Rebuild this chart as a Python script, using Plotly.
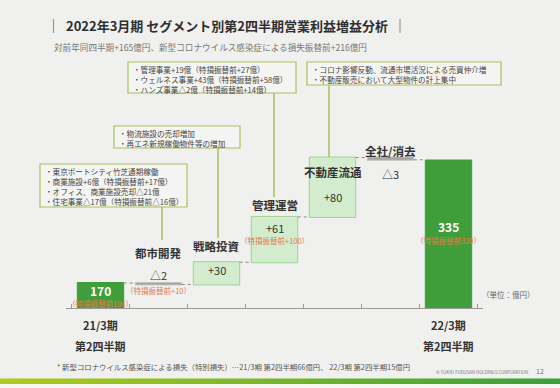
import plotly.graph_objects as go

# ---------------- data ----------------
categories = ["21/3期 第2四半期", "都市開発", "戦略投資", "管理運営", "不動産流通", "全社/消去", "22/3期 第2四半期"]
values = [170, -2, 30, 61, 80, -3, 335]
measures = ["absolute", "relative", "relative", "relative", "relative", "relative", "absolute"]
value_labels = ["170", "△2", "+30", "+61", "+80", "△3", "335"]
segment_labels = ["", "都市開発", "戦略投資", "管理運営", "不動産流通", "全社/消去", ""]
pre_transfer = ["（特損振替前104）", "（特損振替前+10）", "", "（特損振替前+100）", "", "", "（特損振替前320）"]
callouts = {
    "都市開発": ["・東京ポートシティ竹芝通期稼働", "・商業施設+6億（特損振替前+17億）",
              "・オフィス、商業施設売却△21億", "・住宅事業△17億（特損振替前△16億）"],
    "戦略投資": ["・物流施設の売却増加", "・再エネ新規稼働物件等の増加"],
    "管理運営": ["・管理事業+19億（特損振替前+27億）", "・ウェルネス事業+43億（特損振替前+58億）",
              "・ハンズ事業△2億（特損振替前+14億）"],
    "不動産流通": ["・コロナ影響反動、流通市場活況による売買仲介増", "・不動産販売において大型物件の計上集中"],
}
title = "2022年3月期 セグメント別第2四半期営業利益増益分析"
subtitle = "対前年同四半期+165億円、新型コロナウイルス感染症による損失振替前+216億円"
footnote = "* 新型コロナウイルス感染症による損失（特別損失）…21/3期 第2四半期66億円、 22/3期 第2四半期15億円"

# ---------------- layout geometry ----------------
W, H = 560, 388
L, R, T, B = 66, 483, 60, 308
FONT = "Noto Sans CJK JP"
BG = "#f0f0ee"
DARK = "#333333"
ORANGE = "#e47a4c"
OLIVE = "#a9c05e"

def PX(x):
    return (x - L) / (R - L)

def PY(y):
    return (B - y) / (B - T)

fig = go.Figure()
fig.add_trace(go.Waterfall(
    x=categories, y=values, measure=measures, width=0.8,
    textinfo="none", hoverinfo="skip",
    increasing=dict(marker=dict(color="#d3ecce", line=dict(color="#9ed394", width=1))),
    decreasing=dict(marker=dict(color="#a3a3a3", line=dict(color="#c4c4c4", width=1))),
    totals=dict(marker=dict(color="#3f9e3a", line=dict(color="#3f9e3a", width=1))),
    connector=dict(mode="between", line=dict(color="#8a8a8a", width=1, dash="dot")),
))

ann = []
shapes = []

def text(x, y, s, size, color=DARK, bold=False, xref="paper", xanchor="center", yanchor="middle", align="center"):
    ann.append(dict(x=x, y=y, xref=xref, yref="paper", text=("<b>%s</b>" % s) if bold else s,
                    showarrow=False, xanchor=xanchor, yanchor=yanchor, align=align,
                    font=dict(family=FONT, size=size, color=color)))

# bar labels (pixel y positions)
seg_y = {"都市開発": 253, "戦略投資": 246, "管理運営": 205, "不動産流通": 172, "全社/消去": 151}
val_y = [290, 275, 270, 228, 197, 174, 226]
pre_y = [303, 290, 0, 240, 0, 0, 240]
for i, c in enumerate(categories):
    if segment_labels[i]:
        text(c, PY(seg_y[segment_labels[i]]), segment_labels[i], 11.5, bold=True, xref="x")
    white = measures[i] == "absolute"
    text(c, PY(val_y[i]), value_labels[i], 12 if white else 11,
         color="white" if white else DARK, bold=white, xref="x")
    if pre_transfer[i]:
        text(c, PY(pre_y[i]), pre_transfer[i], 7.5, color=ORANGE, xref="x")

for i in (0, 6):
    lab = categories[i].split(" ")
    text(categories[i], PY(325), lab[0], 11, bold=True, xref="x")
    text(categories[i], PY(346), lab[1], 11, bold=True, xref="x")

# callout boxes: (left, top, right, bottom, line x, line bottom)
boxes = {
    "都市開発": (40, 164, 187, 207, 162, 240),
    "戦略投資": (114, 126, 240, 148, 218, 238),
    "管理運営": (128, 62, 296, 93, 274, 197),
    "不動産流通": (307, 62, 501, 85, 329, 157),
}
for k, (x0, y0, x1, y1, lx, ly) in boxes.items():
    shapes.append(dict(type="rect", xref="paper", yref="paper", x0=PX(x0), x1=PX(x1), y0=PY(y0), y1=PY(y1),
                       line=dict(color=OLIVE, width=1.2), fillcolor="rgba(255,255,255,0.25)", layer="above"))
    shapes.append(dict(type="line", xref="paper", yref="paper", x0=PX(lx), x1=PX(lx), y0=PY(y1), y1=PY(ly),
                       line=dict(color=OLIVE, width=1.5)))
    text(PX(x0 + 3), PY(y0), "<br>".join(callouts[k]), 7.6, color="#444444",
         xanchor="left", yanchor="top", align="left")

# title block
text(PX(64), PY(25), title, 13, color="#2f2f2f", bold=True, xanchor="left")
for bx in (53.5, 400):
    shapes.append(dict(type="line", xref="paper", yref="paper", x0=PX(bx), x1=PX(bx), y0=PY(19), y1=PY(33),
                       line=dict(color="#9a9a9a", width=1.2)))
text(PX(52), PY(47), subtitle, 8.6, color="#777777", xanchor="left")

text(PX(480), PY(294), "（単位：億円）", 7.5, color="#666666", xanchor="left")
text(PX(55), PY(366), footnote, 7.4, color="#555555", xanchor="left")
text(PX(530), PY(372), "© TOKYU FUDOSAN HOLDINGS CORPORATION", 4.3, color="#777777", xanchor="right")
text(PX(540), PY(371), "12", 7, color="#777777", xanchor="center")

# bottom gradient stripe
n = 56
c0, c1 = (176, 202, 30), (58, 160, 58)
for j in range(n):
    t = j / (n - 1)
    col = "rgb(%d,%d,%d)" % tuple(round(c0[k] + (c1[k] - c0[k]) * t) for k in range(3))
    shapes.append(dict(type="rect", xref="paper", yref="paper",
                       x0=PX(j * W / n), x1=PX((j + 1) * W / n + 0.5), y0=PY(384), y1=PY(378.5),
                       line=dict(width=0), fillcolor=col))
shapes.append(dict(type="rect", xref="paper", yref="paper", x0=PX(0), x1=PX(W), y0=PY(388), y1=PY(384),
                   line=dict(width=0), fillcolor="#f7f7f6"))

K = 0.7424
y_lo = 170 - (B - 283) / K
y_hi = y_lo + (B - T) / K

fig.update_layout(
    width=W, height=H, margin=dict(l=L, r=W - R, t=T, b=H - B),
    paper_bgcolor=BG, plot_bgcolor=BG, showlegend=False,
    font=dict(family=FONT, color=DARK),
    xaxis=dict(type="category", showline=True, linecolor="#999999", linewidth=1,
               ticks="inside", tickson="boundaries", ticklen=4, tickcolor="#999999",
               showticklabels=False, showgrid=False, zeroline=False, fixedrange=True),
    yaxis=dict(range=[y_lo, y_hi], visible=False, showgrid=False, zeroline=False),
    annotations=ann, shapes=shapes,
)
fig.write_html("out.html")
